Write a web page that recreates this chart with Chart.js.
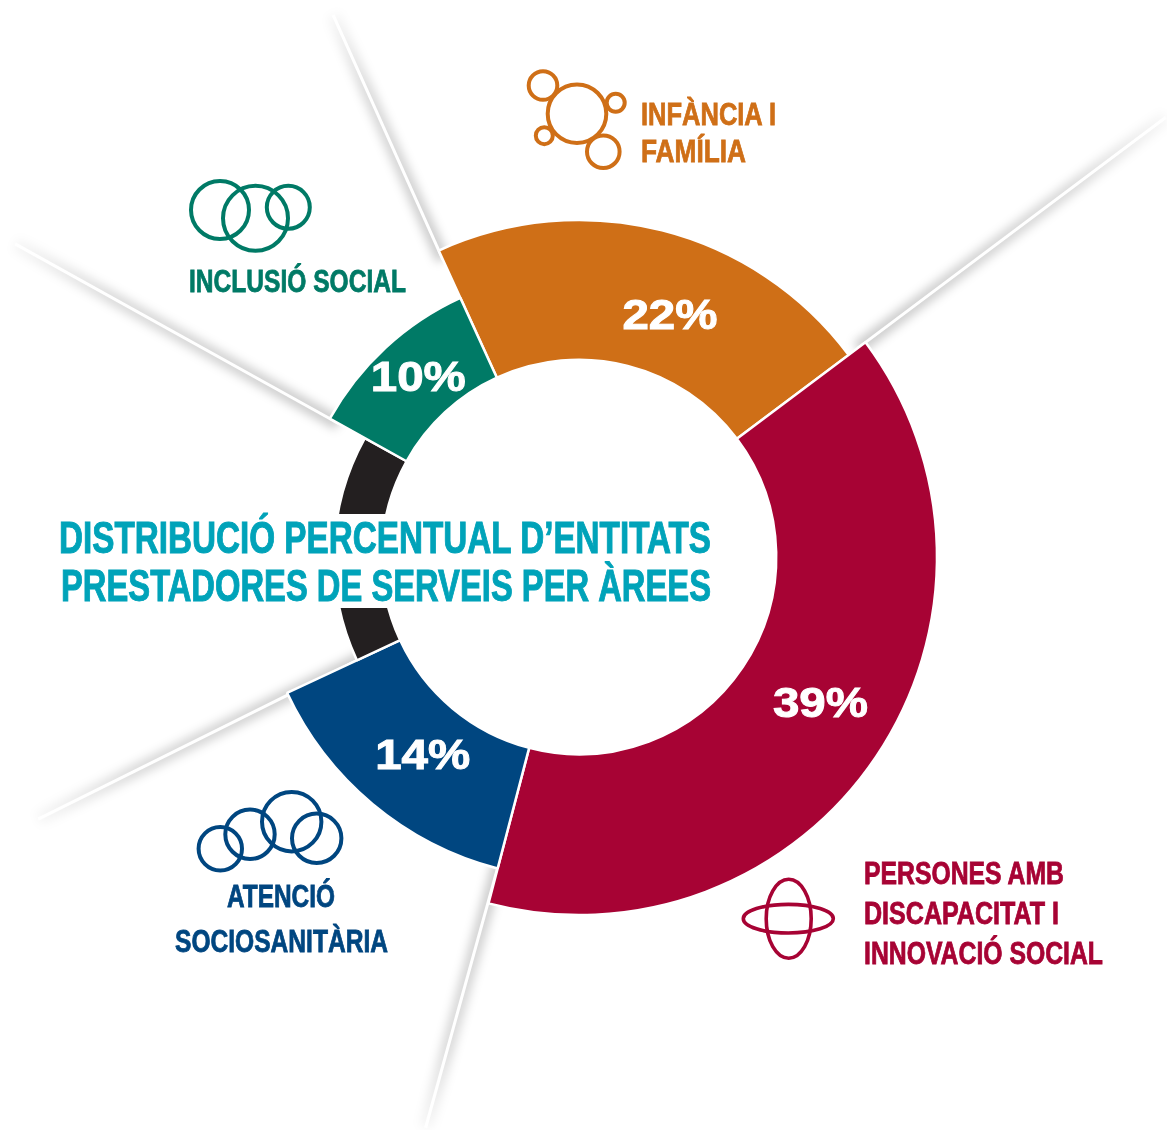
<!DOCTYPE html>
<html>
<head>
<meta charset="utf-8">
<script src="https://cdn.jsdelivr.net/npm/chart.js@4"></script>
<style>
  html, body { margin: 0; background: #fff; }
  #wrap { position: relative; width: 1167px; height: 1130px; overflow: hidden; }
  canvas { position: absolute; left: 0; top: 0; }
  svg { position: absolute; left: 0; top: 0; }
  svg * { fill: none; }
  .txt { position: absolute; white-space: nowrap; font-family: "Liberation Sans", Arial, sans-serif; font-weight: 700; line-height: 1; transform-origin: left top; }
  #titleBox { position: absolute; left: 56px; top: 514px; width: 660px; height: 94px; background: #fff; }
</style>
</head>
<body>
<div id="wrap">
  <canvas id="donut" width="1167" height="1130"></canvas>
  <div id="titleBox"></div>
  <svg width="1167" height="1130">
    <!-- infancia -->
    <g stroke="#cf6f17" stroke-width="4">
      <circle cx="577" cy="113.7" r="29.3"/><circle cx="543" cy="85.5" r="14.3"/>
      <circle cx="615.7" cy="102.7" r="9"/><circle cx="544.3" cy="135.7" r="8.5"/>
      <circle cx="603.3" cy="151.7" r="16.3"/>
    </g>
    <!-- inclusio -->
    <g stroke="#007a66" stroke-width="4">
      <circle cx="220" cy="210" r="29"/><circle cx="255.5" cy="218.3" r="32.5"/><circle cx="288.3" cy="207.3" r="21.5"/>
    </g>
    <!-- atencio -->
    <g stroke="#004680" stroke-width="4">
      <circle cx="220.3" cy="848.7" r="21.7"/><circle cx="250" cy="834.3" r="24.7"/>
      <circle cx="291.7" cy="821.7" r="29.7"/><circle cx="316.7" cy="838.3" r="24.7"/>
    </g>
    <!-- discapacitat -->
    <g stroke="#a70334" stroke-width="3.6">
      <ellipse cx="788.7" cy="918.7" rx="22.5" ry="39.5"/><ellipse cx="788.3" cy="918.7" rx="45" ry="14.3"/>
    </g>
  </svg>
</div>
<script>
const categories = ['Infància i família', 'Persones amb discapacitat i innovació social', 'Atenció sociosanitària', 'Altres', 'Inclusió social'];
const shares = [21.6, 39.3, 14.0, 15.0, 10.1];
const showLabel = [true, true, true, false, true];
const sliceColors = ['#cf6f17', '#a70334', '#004680', '#231f20', '#007a66'];

// Each slice has its own outer radius in the original
const ringRadii = [337, 358, 322, 245, 285];
const rayLengths = [595, 733, 591, 601, 645];
const rayTiltDeg = [0.2, 0, 0.4, -0.9, 0];
const labelNudge = [[25, 19], [11, -6], [10, 1], [0, 0], [3, -1]];

const textLines = [
  { text: 'DISTRIBUCIÓ PERCENTUAL D’ENTITATS', x: 59, base: 553, w: 652, size: 44, color: '#00a3b9' },
  { text: 'PRESTADORES DE SERVEIS PER ÀREES', x: 61, base: 601, w: 650, size: 44, color: '#00a3b9' },
  { text: 'INFÀNCIA I', x: 641, base: 125, w: 135, size: 32, color: '#cf6f17' },
  { text: 'FAMÍLIA', x: 641, base: 162, w: 105, size: 32, color: '#cf6f17' },
  { text: 'INCLUSIÓ SOCIAL', x: 189, base: 292, w: 217, size: 31, color: '#007a66' },
  { text: 'ATENCIÓ', x: 227, base: 907.5, w: 108, size: 31, color: '#004680' },
  { text: 'SOCIOSANITÀRIA', x: 175, base: 952.5, w: 213, size: 31, color: '#004680' },
  { text: 'PERSONES AMB', x: 864, base: 884.5, w: 200, size: 31, color: '#a70334' },
  { text: 'DISCAPACITAT I', x: 864, base: 924.5, w: 195, size: 31, color: '#a70334' },
  { text: 'INNOVACIÓ SOCIAL', x: 864, base: 964.5, w: 239, size: 31, color: '#a70334' }
];

// outer radius per slice, chart.js only has one per dataset
const sliceRadiusPlugin = {
  id: 'sliceRadius',
  afterDatasetsUpdate(chart) {
    chart.getDatasetMeta(0).data.forEach((arc, i) => {
      arc.outerRadius = ringRadii[i];
    });
  }
};

// white rays with a soft shadow that continue the slice edges
const rayPlugin = {
  id: 'rays',
  beforeDatasetsDraw(chart) {
    const c = chart.ctx;
    chart.getDatasetMeta(0).data.forEach((arc, i) => {
      const from = ringRadii[i] - 10;
      const x0 = arc.x + Math.cos(arc.startAngle) * from;
      const y0 = arc.y + Math.sin(arc.startAngle) * from;
      const endAngle = arc.startAngle + rayTiltDeg[i] * Math.PI / 180;
      const x1 = arc.x + Math.cos(endAngle) * rayLengths[i];
      const y1 = arc.y + Math.sin(endAngle) * rayLengths[i];

      const fade = c.createLinearGradient(x0, y0, x1, y1);
      fade.addColorStop(0, 'rgba(0,0,0,0.2)');
      fade.addColorStop(0.7, 'rgba(0,0,0,0.14)');
      fade.addColorStop(1, 'rgba(0,0,0,0.03)');

      c.save();
      c.filter = 'blur(5px)';
      c.strokeStyle = fade;
      c.lineWidth = 14;
      c.beginPath();
      c.moveTo(x0, y0);
      c.lineTo(x1, y1);
      c.stroke();
      c.restore();

      c.save();
      c.strokeStyle = '#fff';
      c.lineWidth = 3;
      c.beginPath();
      c.moveTo(x0, y0);
      c.lineTo(x1, y1);
      c.stroke();
      c.restore();
    });
  }
};

const percentPlugin = {
  id: 'percents',
  afterDatasetsDraw(chart) {
    const c = chart.ctx;
    chart.getDatasetMeta(0).data.forEach((arc, i) => {
      if (!showLabel[i]) return;
      const mid = (arc.startAngle + arc.endAngle) / 2;
      const r = (arc.innerRadius + arc.outerRadius) / 2;
      const label = Math.round(shares[i]) + '%';
      c.save();
      c.translate(arc.x + Math.cos(mid) * r + labelNudge[i][0], arc.y + Math.sin(mid) * r + labelNudge[i][1]);
      c.scale(1.13, 1);
      c.fillStyle = '#fff';
      c.strokeStyle = '#fff';
      c.lineWidth = 1;
      c.font = 'bold 42px "Liberation Sans", Arial, sans-serif';
      c.textAlign = 'center';
      c.textBaseline = 'middle';
      c.strokeText(label, 0, 0);
      c.fillText(label, 0, 0);
      c.restore();
    });
  }
};

new Chart(document.getElementById('donut'), {
  type: 'doughnut',
  data: {
    labels: categories,
    datasets: [{
      data: shares,
      backgroundColor: sliceColors,
      borderColor: '#fff',
      borderWidth: 2.5
    }]
  },
  options: {
    responsive: false,
    animation: false,
    rotation: -24.6,
    radius: 358,
    cutout: '55.1%',
    layout: { padding: { right: 9, bottom: 16 } },
    plugins: { legend: { display: false }, tooltip: { enabled: false } }
  },
  plugins: [sliceRadiusPlugin, rayPlugin, percentPlugin]
});

// Category labels and title, squeezed to the condensed widths of the original
const wrap = document.getElementById('wrap');
textLines.forEach((line) => {
  const el = document.createElement('div');
  el.className = 'txt';
  el.textContent = line.text;
  el.style.fontSize = line.size + 'px';
  el.style.color = line.color;
  el.style.left = line.x + 'px';
  el.style.top = (line.base - 0.8465 * line.size) + 'px';
  el.style.webkitTextStroke = (line.size > 40 ? 1 : 0.8) + 'px ' + line.color;
  wrap.appendChild(el);
  el.style.transform = `scaleX(${line.w / el.getBoundingClientRect().width})`;
});
</script>
</body>
</html>
